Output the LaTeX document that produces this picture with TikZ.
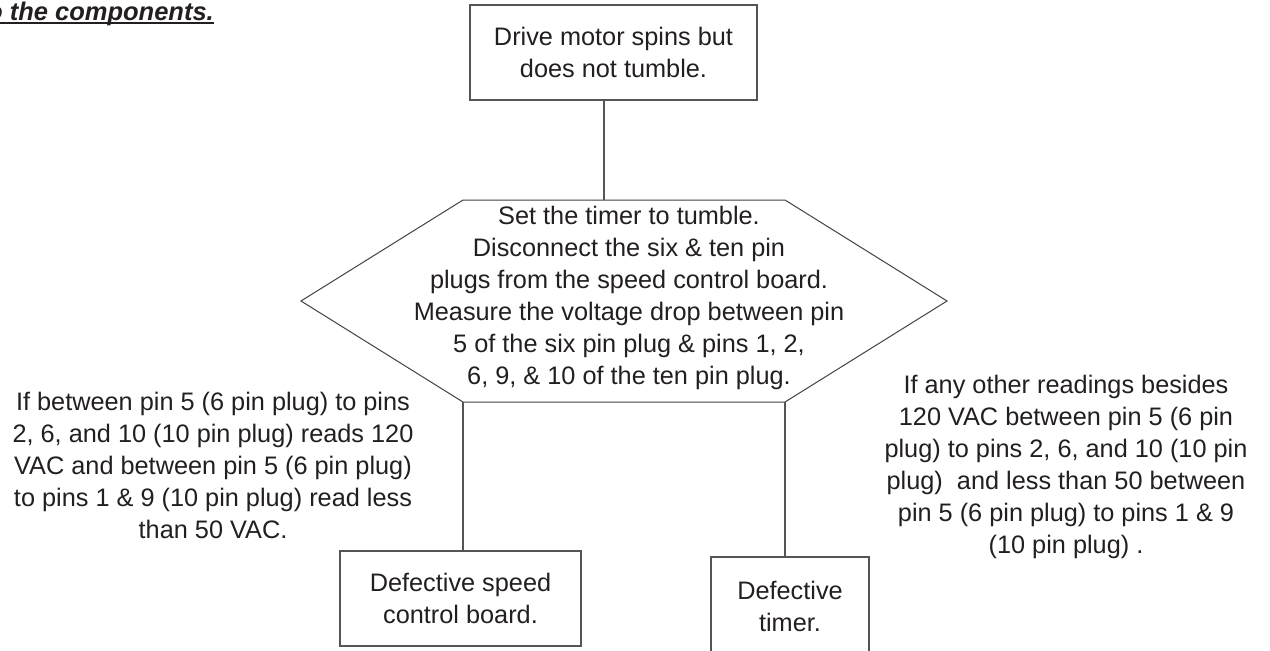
\documentclass[tikz,border=0pt]{standalone}
\usepackage{fontspec}
\setmainfont{Liberation Sans}
\usetikzlibrary{positioning, calc}
\definecolor{InkBlack}{RGB}{35,31,32}
\definecolor{RuleGray}{RGB}{85,85,85}

\begin{document}
\begin{tikzpicture}[x=1pt, y=1pt,
  every node/.style={font=\fontsize{25.3}{32}\selectfont, text=InkBlack, align=center},
  stepbox/.style={draw=RuleGray, line width=1.2pt, inner sep=0pt},
  link/.style={draw=RuleGray, line width=1.2pt}]
\useasboundingbox (0,0) rectangle (1270,-651);

\node[font=\fontsize{25.5}{30}\selectfont\bfseries\itshape, anchor=base east, inner sep=0pt]
  (hdr) at (214,-20) {o the components.};
\draw[InkBlack, line width=2pt] ([yshift=-3]hdr.base west) -- ([yshift=-3]hdr.base east);

\node[stepbox, minimum width=287, minimum height=95] (drive) at (613.5,-52.5)
  {Drive motor spins but\\does not tumble.};

\coordinate (hexL)  at (301,-301);
\coordinate (hexTL) at (463,-200);
\coordinate (hexTR) at (785,-200);
\coordinate (hexR)  at (947,-301);
\coordinate (hexBR) at (785,-402);
\coordinate (hexBL) at (463,-402);
\coordinate (hexIn) at (604,-200);
\draw[InkBlack!85, line width=1pt] (hexL) -- (hexTL) -- (hexTR) -- (hexR) -- (hexBR) -- (hexBL) -- cycle;
\node (measure) at (629,-298)
  {Set the timer to tumble.\\
   Disconnect the six \& ten pin\\
   plugs from the speed control board.\\
   Measure the voltage drop between pin\\
   5 of the six pin plug \& pins 1, 2,\\
   6, 9, \& 10 of the ten pin plug.};

\node (passL) at (213,-465)
  {If between pin 5 (6 pin plug) to pins\\
   2, 6, and 10 (10 pin plug) reads 120\\
   VAC and between pin 5 (6 pin plug)\\
   to pins 1 \& 9 (10 pin plug) read less\\
   than 50 VAC.};
\node (passR) at (1066,-467)
  {If any other readings besides\\
   120 VAC between pin 5 (6 pin\\
   plug) to pins 2, 6, and 10 (10 pin\\
   plug)\ \ and less than 50 between\\
   pin 5 (6 pin plug) to pins 1 \& 9\\
   (10 pin plug) .};

\node[stepbox, minimum width=241, minimum height=95] (speed) at (460.5,-598.5)
  {Defective speed\\control board.};
\node[stepbox, minimum width=158, minimum height=99] (timer) at (790,-606.5)
  {Defective\\timer.};

\draw[link] (hexIn |- drive.south) -- (hexIn);
\draw[link] (hexBL) -- (hexBL |- speed.north);
\draw[link] (hexBR) -- (hexBR |- timer.north);
\end{tikzpicture}
\end{document}
